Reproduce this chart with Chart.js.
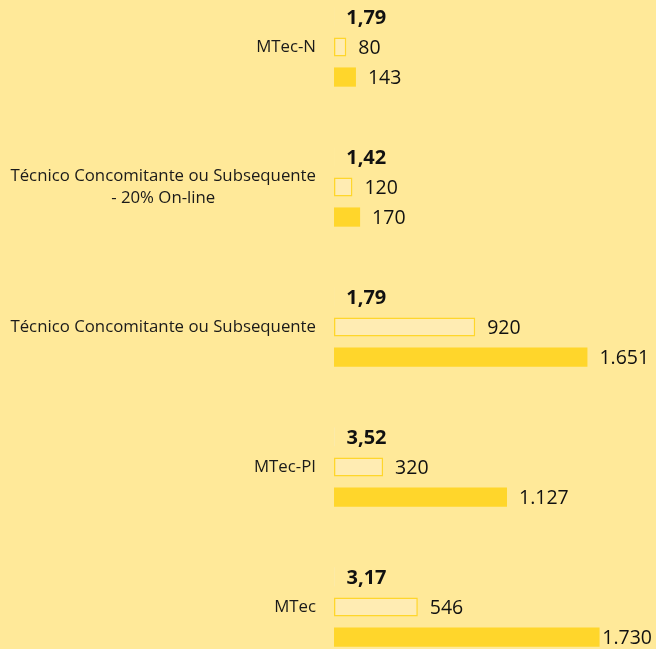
<!DOCTYPE html>
<html lang="pt-BR">
<head>
<meta charset="utf-8">
<title>Candidatos por vaga</title>
<script src="https://cdn.jsdelivr.net/npm/chart.js@4.4.1/dist/chart.umd.min.js"></script>
<style>
    html, body { margin: 0; padding: 0; background: #FFE999; }
    #wrap { position: relative; width: 656px; height: 649px; }
</style>
</head>
<body>
<div id="wrap"><canvas id="chart"></canvas></div>
<script>
// Categories (top to bottom)
const categories = [
    ['MTec-N'],
    ['Técnico Concomitante ou Subsequente', '- 20% On-line'],
    ['Técnico Concomitante ou Subsequente'],
    ['MTec-PI'],
    ['MTec']
];
// Candidates per vacancy (bold labels)
const ratio = [1.79, 1.42, 1.79, 3.52, 3.17];
// Vacancies (light bars)
const vagas = [80, 120, 920, 320, 546];
// Candidates (solid bars)
const inscritos = [143, 170, 1651, 1127, 1730];

const FONT = '"Open Sans", sans-serif';

// pt-BR number formatting
function fmt(v, decimals) {
    const parts = v.toFixed(decimals).split('.');
    parts[0] = parts[0].replace(/\B(?=(\d{3})+(?!\d))/g, '.');
    return parts.join(',');
}

// Category labels: block right aligned, lines centered inside block
const categoryLabels = {
    id: 'categoryLabels',
    afterDraw(chart) {
        const ctx = chart.ctx;
        const y = chart.scales.y;
        const right = 316;
        ctx.save();
        ctx.font = '16.8px ' + FONT;
        ctx.fillStyle = '#1a1a1a';
        ctx.textBaseline = 'middle';
        ctx.textAlign = 'center';
        categories.forEach((lines, i) => {
            const widths = lines.map(l => ctx.measureText(l).width);
            const blockW = Math.max(...widths);
            const cx = right - blockW / 2;
            const lh = 22;
            const y0 = y.getPixelForValue(i) - (lines.length - 1) * lh / 2;
            lines.forEach((l, j) => ctx.fillText(l, cx, y0 + j * lh));
        });
        ctx.restore();
    }
};

// Value labels to the right of every bar (kept inside the canvas)
const valueLabels = {
    id: 'valueLabels',
    afterDatasetsDraw(chart) {
        const ctx = chart.ctx;
        ctx.save();
        ctx.textBaseline = 'middle';
        ctx.textAlign = 'left';
        ctx.fillStyle = '#111';
        chart.data.datasets.forEach((ds, di) => {
            const meta = chart.getDatasetMeta(di);
            ctx.font = (di === 0 ? 'bold 20px ' : '19.5px ') + FONT;
            meta.data.forEach((el, i) => {
                const v = ds.data[i];
                const txt = di === 0 ? fmt(v, 2) : fmt(v, 0);
                const w = ctx.measureText(txt).width;
                const x = Math.min(el.x + 12, chart.width - 4 - w);
                ctx.fillText(txt, x, el.y + 1);
            });
        });
        ctx.restore();
    }
};

new Chart(document.getElementById('chart'), {
    type: 'bar',
    data: {
        labels: categories.map(c => c.join(' ')),
        datasets: [
            {
                label: 'Candidatos/vaga',
                data: ratio,
                backgroundColor: 'rgba(0,0,0,0)',
                borderColor: '#F2EDD5',
                borderWidth: 1,
                borderSkipped: false,
                clip: false
            },
            {
                label: 'Vagas',
                data: vagas,
                backgroundColor: '#FFECB3',
                borderColor: '#FFD62B',
                borderWidth: 1.5,
                borderSkipped: false,
                clip: false
            },
            {
                label: 'Inscritos',
                data: inscritos,
                backgroundColor: '#FFD62B',
                borderWidth: 0,
                clip: false
            }
        ]
    },
    options: {
        indexAxis: 'y',
        responsive: true,
        maintainAspectRatio: false,
        animation: false,
        categoryPercentage: 0.644,
        barPercentage: 0.64,
        layout: { padding: { left: 334, right: 15, top: 47, bottom: 42 } },
        plugins: {
            legend: { display: false },
            tooltip: { enabled: false }
        },
        scales: {
            x: { display: false, min: 0, max: 2000 },
            y: { display: false, offset: false }
        }
    },
    plugins: [categoryLabels, valueLabels]
});
</script>
</body>
</html>
